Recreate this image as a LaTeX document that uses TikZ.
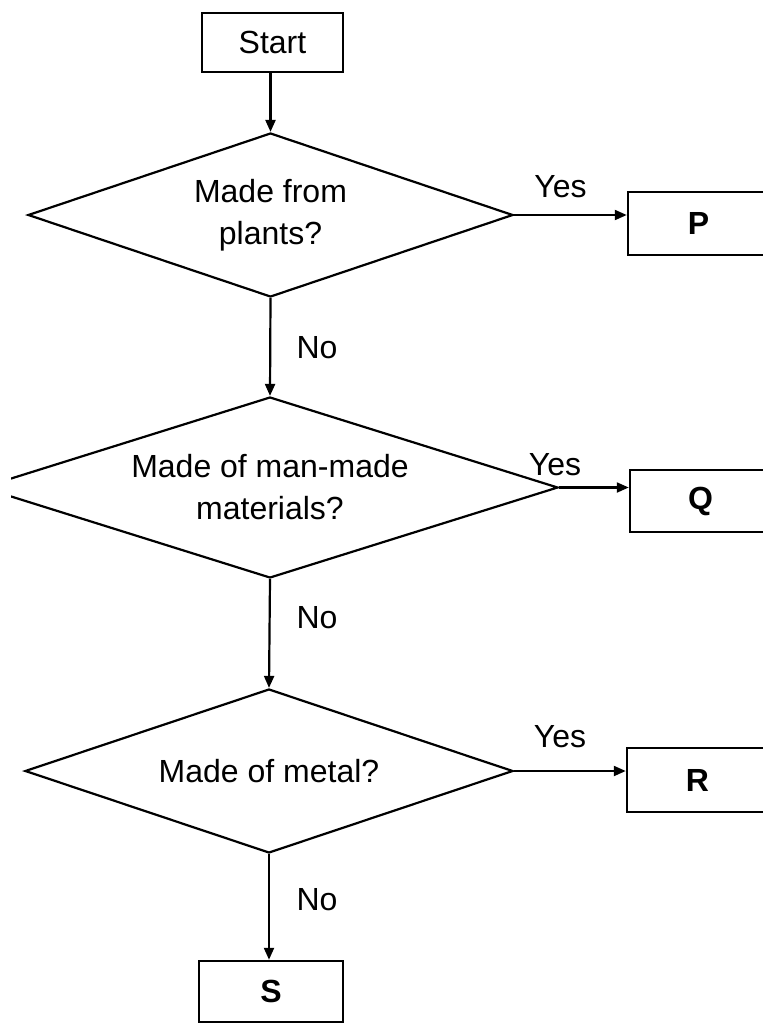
\documentclass[tikz,border=0pt]{standalone}
\usepackage{fontspec}
\setmainfont{Liberation Sans}
\usetikzlibrary{shapes.geometric,arrows.meta}
\begin{document}
\begin{tikzpicture}[x=1pt,y=-1pt,
  box/.style={draw, line width=2.5pt, minimum width=141pt, minimum height=63pt, inner sep=0pt, font=\fontsize{32}{40}\selectfont},
  lettbox/.style={box, font=\fontsize{32}{40}\selectfont\bfseries},
  dec/.style={draw, shape=diamond, shape aspect=3.2, line width=2.2pt, inner sep=0pt, align=center, font=\fontsize{32}{42}\selectfont},
  conn/.style={line width=2.2pt, -{Triangle[length=12pt,width=10pt]}},
  lbl/.style={font=\fontsize{32}{40}\selectfont, inner sep=0pt, anchor=base}]
\useasboundingbox (0,0) rectangle (763,1023);
\clip (0,0) rectangle (763,1023);
% nodes
\node[box, minimum height=59pt] (start) at (272.5,42.5) {Start};
\node[dec, minimum width=485pt, minimum height=164pt] (d1) at (270.5,215) {Made from\\plants?};
\begin{scope}
  \clip (11,0) rectangle (763,1023);
  \node[dec, minimum width=576pt, minimum height=181pt] (d2) at (270,487.5) {Made of man-made\\materials?};
\end{scope}
\node[dec, minimum width=488pt, minimum height=164pt] (d3) at (269,771) {Made of metal?};
\node[lettbox] (P) at (698.5,223.5) {P};
\node[lettbox, minimum height=62pt] (Q) at (700.5,501) {Q};
\node[lettbox, minimum height=64pt] (R) at (697.5,780) {R};
\node[lettbox, minimum width=144pt, minimum height=61pt] (S) at (271,991.5) {S};
% connectors
\draw[conn] (start.south -| d1.north) -- (d1.north);
\draw[conn] (d1.east) -- (d1.east -| P.west);
\draw[conn] (d1.south) -- (d2.north);
\draw[conn] (d2.east) -- (d2.east -| Q.west);
\draw[conn] (d2.south) -- (d3.north);
\draw[conn] (d3.east) -- (d3.east -| R.west);
\draw[conn] (d3.south) -- (d3.south |- S.north);
% labels
\node[lbl] (yes1) at (560.5,197) {Yes};
\node[lbl] (yes2) at (555,475) {Yes};
\node[lbl] (yes3) at (560,747) {Yes};
\node[lbl] (no1) at (317,358) {No};
\node[lbl] (no2) at (317,628) {No};
\node[lbl] (no3) at (317,910) {No};
\end{tikzpicture}
\end{document}
